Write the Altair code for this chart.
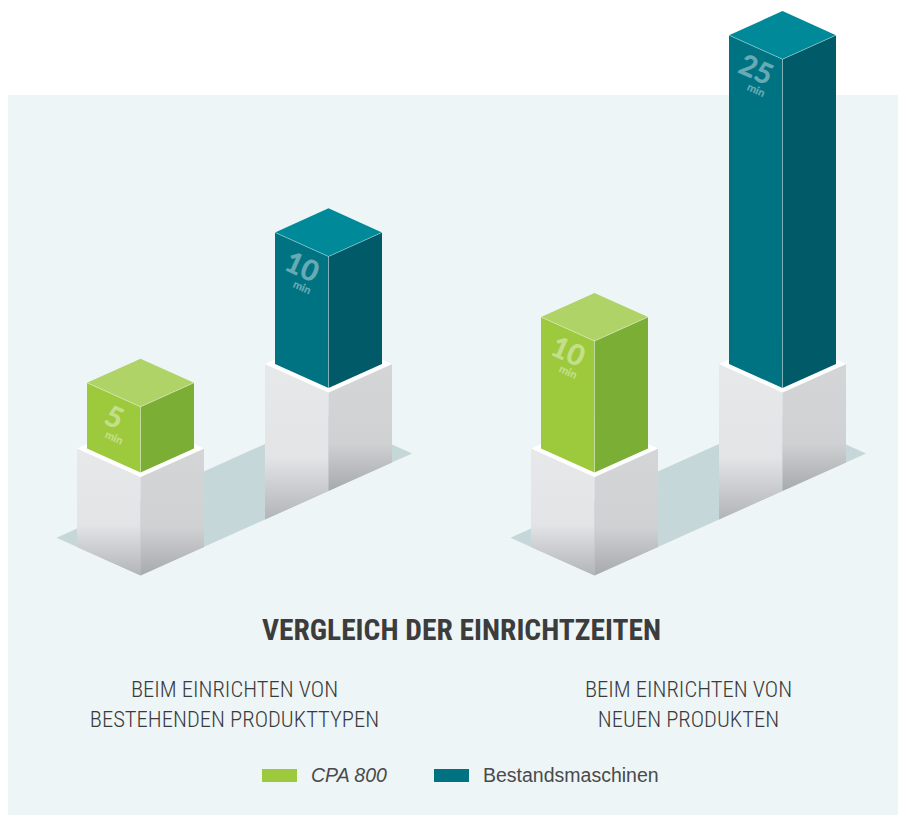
import altair as alt
import pandas as pd

# ------------------------------------------------------------------ data
groups = ["BEIM EINRICHTEN VON\nBESTEHENDEN PRODUKTTYPEN",
          "BEIM EINRICHTEN VON\nNEUEN PRODUKTEN"]
series = ["CPA 800", "Bestandsmaschinen"]
cpa_minutes = [5, 10]
bestand_minutes = [10, 25]
unit_label = "min"
title_text = "VERGLEICH DER EINRICHTZEITEN"

series_values = {"CPA 800": cpa_minutes, "Bestandsmaschinen": bestand_minutes}

# ------------------------------------------------------------------ styles
face_colors = {
    "CPA 800|left": "#9DCA3C",
    "Bestandsmaschinen|left": "#007383",
    "CPA 800|right": "#7BAE35",
    "Bestandsmaschinen|right": "#005A67",
    "CPA 800|top": "#B0D368",
    "Bestandsmaschinen|top": "#008A99",
}
PANEL = "#EDF5F7"
SHADOW = "#C5D7D9"
TEXT = "#3C3C3C"
NARROW = "'Roboto Condensed', 'DejaVu Sans Condensed', 'Liberation Sans Narrow', 'Open Sans', sans-serif"

# ------------------------------------------------------------------ isometric layout
W, H = 890, 807            # view size (px)
K = 13.15                  # px per minute (same on both axes)
S = 0.45                   # isometric slope


def U(px):
    return px / K


CUBE_A = U(53.5)           # half width of a bar
PED_A = U(63.5)            # half width of a pedestal
PED_H = U(98.5)            # pedestal height
X0 = U(132.5)              # first bar centre
Y0 = (H - 440.5) / K       # bar foot level
SERIES_D = U(188)          # depth shift between series
GROUP_D = U(454)           # shift between groups
STRIP_W = U(84)
STRIP_L = U(271.5)

face_rows, pl_rows, pr_rows, pt_rows, strip_rows, edge_rows, lab_rows = [], [], [], [], [], [], []
group_mid = []


def add(rows, pid, pts, **extra):
    for i, (x, y) in enumerate(pts):
        rows.append(dict(pid=pid, o=i, x=x, y=y, **extra))


for g, gname in enumerate(groups):
    centers = []
    for si, name in enumerate(series):
        v = series_values[name][g]
        cx = X0 + g * GROUP_D + si * SERIES_D
        cy = Y0 + si * SERIES_D * S
        centers.append(cx)
        pid = f"{g}-{si}"
        # bar cube
        lb, fb, rb = (cx - CUBE_A, cy), (cx, cy - S * CUBE_A), (cx + CUBE_A, cy)
        lt, ft = (cx - CUBE_A, cy + v), (cx, cy + v - S * CUBE_A)
        rt, bt = (cx + CUBE_A, cy + v), (cx, cy + v + S * CUBE_A)
        add(face_rows, pid + "L", [lb, fb, ft, lt], key=f"{name}|left")
        add(face_rows, pid + "R", [fb, rb, rt, ft], key=f"{name}|right")
        add(face_rows, pid + "T", [lt, ft, rt, bt], key=f"{name}|top")
        add(edge_rows, pid + "a", [lt, ft, rt])
        add(edge_rows, pid + "b", [ft, fb])
        # labels
        mx = cx - CUBE_A / 2
        my = cy + v - S * CUBE_A / 2
        lab_rows.append(dict(x=mx, y=my - U(23.5), t=str(v), kind="num"))
        lab_rows.append(dict(x=mx, y=my - U(43.5), t=unit_label, kind="unit"))
        # pedestal
        plt_, pft = (cx - PED_A, cy), (cx, cy - S * PED_A)
        prt, pbt = (cx + PED_A, cy), (cx, cy + S * PED_A)
        yb = cy - PED_H
        pfb, prb = (cx, yb - S * PED_A), (cx + PED_A, yb)
        plb = (cx - PED_A, yb) if si == 0 else (cx - PED_A, yb - 2 * S * PED_A)
        add(pl_rows, pid, [plt_, pft, pfb, plb])
        add(pr_rows, pid, [pft, prt, prb, pfb])
        add(pt_rows, pid, [plt_, pft, prt, pbt])
        if si == 0:
            B = pfb
    A = (B[0] - STRIP_W, B[1] + S * STRIP_W)
    C = (B[0] + STRIP_L, B[1] + S * STRIP_L)
    D = (C[0] - STRIP_W, C[1] + S * STRIP_W)
    add(strip_rows, f"s{g}", [A, B, C, D])
    group_mid.append(sum(centers) / len(centers))

faces = pd.DataFrame(face_rows)
ped_l = pd.DataFrame(pl_rows)
ped_r = pd.DataFrame(pr_rows)
ped_t = pd.DataFrame(pt_rows)
strips = pd.DataFrame(strip_rows)
edges = pd.DataFrame(edge_rows)
labels = pd.DataFrame(lab_rows)
group_df = pd.DataFrame({"g": groups, "x": group_mid})
title_df = pd.DataFrame({"t": [title_text], "x": [sum(group_mid) / len(group_mid)]})

# ------------------------------------------------------------------ encodings
xs = alt.X("x:Q", scale=alt.Scale(domain=[0, W / K], nice=False, zero=False), axis=None)
ys = alt.Y("y:Q", scale=alt.Scale(domain=[0, H / K], nice=False, zero=False), axis=None)


def poly(df, **mark):
    return alt.Chart(df).mark_line(filled=True, **mark).encode(
        x=xs, y=ys, detail="pid:N", order="o:Q")


panel = alt.Chart(pd.DataFrame({"a": [0]})).mark_rect(color=PANEL).encode(
    x=alt.value(0), x2=alt.value(W), y=alt.value(87), y2=alt.value(H))

shadow = poly(strips, color=SHADOW)

ped_left = poly(ped_l, color=alt.Gradient(
    gradient="linear", x1=0, x2=0, y1=0, y2=1,
    stops=[alt.GradientStop(color="#E7E8EA", offset=0),
           alt.GradientStop(color="#E3E4E6", offset=0.6),
           alt.GradientStop(color="#B3B4B7", offset=1)]))
ped_right = poly(ped_r, color=alt.Gradient(
    gradient="linear", x1=0, x2=0, y1=0, y2=1,
    stops=[alt.GradientStop(color="#D4D5D7", offset=0),
           alt.GradientStop(color="#D0D1D3", offset=0.62),
           alt.GradientStop(color="#A8A9AC", offset=1)]))
ped_top = poly(ped_t, color="#FFFFFF")

keys = list(face_colors.keys())
bars = alt.Chart(faces).mark_line(filled=True).encode(
    x=xs, y=ys, detail="pid:N", order="o:Q",
    color=alt.Color("key:N",
                    scale=alt.Scale(domain=keys, range=[face_colors[k] for k in keys]),
                    legend=alt.Legend(
                        title=None, orient="none", legendX=254, legendY=750,
                        direction="horizontal",
                        values=[f"{s}|left" for s in series],
                        labelExpr="split(datum.label, '|')[0]",
                        symbolType="M-1,-0.371H1V0.371H-1Z", symbolSize=1225,
                        symbolStrokeWidth=0, symbolOpacity=1,
                        labelFont="Liberation Sans", labelFontSize=19.5, labelLimit=400,
                        labelColor="#4A4A4A", labelOffset=14, columnPadding=46,
                        padding=0,
                        labelFontStyle={"expr": "datum.label == 'CPA 800|left' ? 'italic' : 'normal'"},
                    )))

edge_lines = alt.Chart(edges).mark_line(color="white", opacity=0.35, strokeWidth=1).encode(
    x=xs, y=ys, detail="pid:N", order="o:Q")

num_labels = alt.Chart(labels).transform_filter("datum.kind == 'num'").mark_text(
    angle=24, font="Lato", fontWeight=900, fontSize=29, color="white", opacity=0.4,
    align="center", baseline="middle").encode(x=xs, y=ys, text="t:N")
unit_labels = alt.Chart(labels).transform_filter("datum.kind == 'unit'").mark_text(
    angle=24, font="Lato", fontWeight=900, fontSize=11, color="white", opacity=0.4,
    align="center", baseline="middle").encode(x=xs, y=ys, text="t:N")

title = alt.Chart(title_df).mark_text(
    font=NARROW, fontWeight="bold", fontSize=29.5, color=TEXT,
    align="center", baseline="alphabetic").encode(x=xs, y=alt.value(632), text="t:N")

group_labels = alt.Chart(group_df).mark_text(
    font=NARROW, fontWeight=300, fontSize=22.6, color="#3A3A3A", lineBreak="\n",
    lineHeight=30, align="center", baseline="top").encode(
    x=xs, y=alt.value(671), text="g:N")

chart = alt.layer(
    panel, shadow, ped_left, ped_right, ped_top, bars, edge_lines,
    num_labels, unit_labels, title, group_labels
).properties(width=W, height=H, padding=0, background="white").configure_view(stroke=None)

chart.save("out.html", embed_options={"renderer": "svg", "actions": False})
